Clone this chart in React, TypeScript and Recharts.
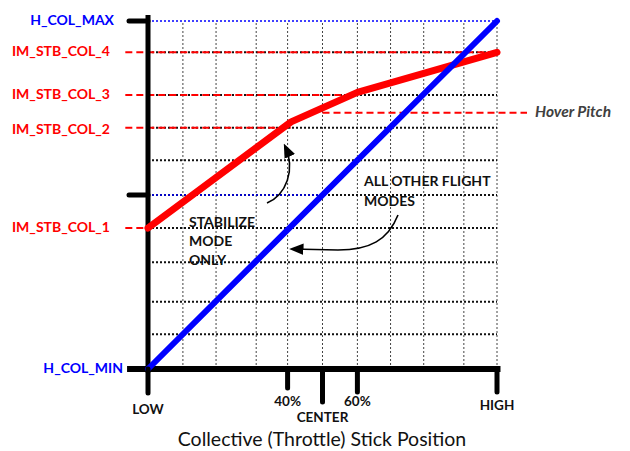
import React from 'react';
import { LineChart, Line, XAxis, YAxis, ReferenceLine } from 'recharts';

// stick position (0 = LOW, 100 = HIGH) vs collective pitch (0 = H_COL_MIN, 100 = H_COL_MAX)
const stabX = [0, 41, 60, 100];
const stabY = [40.5, 71, 79.5, 91];
const otherX = [0, 100];
const otherY = [0, 100];

const xTickValues = [0, 40, 50, 60, 100];
const xTickLabels = ['LOW', '40%', 'CENTER', '60%', 'HIGH'];

const levelNames = ['H_COL_MIN', 'IM_STB_COL_1', 'IM_STB_COL_2', 'IM_STB_COL_3', 'IM_STB_COL_4', 'H_COL_MAX'];
const levelValues = [0, 40.5, 69.3, 78.7, 91, 100];
// where each red dashed guide stops on the stick axis (null = no guide)
const levelGuideEnd = [null, 0, 41, 58.5, 100, null];

const hoverPitch = 73.6;

const xGrid = [10, 19.5, 31, 40, 50, 60, 69.5, 79, 90.5, 100];
const yGrid = [10, 19.3, 30.7, 40.5, 50, 60, 69.3, 78.7, 91];

const RED = '#ff0000';
const BLUE = '#0000ff';
const FONT = 'Lato, "Open Sans", sans-serif';

const stabData = stabX.map((x, i) => ({ x, y: stabY[i] }));
const otherData = otherX.map((x, i) => ({ x, y: otherY[i] }));

// tick mark length and label offset under the axis
const xTickStyle: Record<string, { len: number; dy: number }> = {
  LOW: { len: 24, dy: 42 },
  '40%': { len: 19, dy: 34 },
  CENTER: { len: 33, dy: 50 },
  '60%': { len: 23, dy: 34 },
  HIGH: { len: 23, dy: 38 },
};

const XTick = ({ x, y, payload }: any) => {
  const i = xTickValues.indexOf(payload.value);
  const label = xTickLabels[i];
  const s = xTickStyle[label];
  if (!s) return null;
  return (
    <g>
      <line x1={x} x2={x} y1={y} y2={y + s.len} stroke="#000" strokeWidth={5} strokeLinecap="round" />
      <text
        x={x}
        y={y + s.dy}
        textAnchor="middle"
        dominantBaseline="middle"
        fontFamily={FONT}
        fontWeight={700}
        fontSize={13.5}
        fill="#111"
      >
        {label}
      </text>
    </g>
  );
};

const YTick = ({ x, y, payload }: any) => {
  const v = payload.value;
  const i = levelValues.indexOf(v);
  const name = i >= 0 ? levelNames[i] : '';
  const isH = name.startsWith('H_');
  const gap = name === 'H_COL_MIN' ? 25 : name === 'H_COL_MAX' ? 34 : 38;
  return (
    <g>
      {(v === 100 || v === 50) && (
        <line x1={x - 19} x2={x} y1={y} y2={y} stroke="#000" strokeWidth={5} strokeLinecap="round" />
      )}
      {name && (
        <text
          x={x - gap}
          y={y + (name === 'IM_STB_COL_2' ? 3 : 0)}
          textAnchor="end"
          dominantBaseline="middle"
          fontFamily={FONT}
          fontWeight={700}
          fontSize={14}
          fill={isH ? BLUE : RED}
        >
          {name}
        </text>
      )}
    </g>
  );
};

export default function App() {
  return (
    <div style={{ position: 'relative', width: 630, height: 451, background: '#fff' }}>
      <style>{`body{margin:0}`}</style>
      <LineChart width={630} height={451} margin={{ top: 21, right: 133, bottom: 42, left: 88 }}>
        <XAxis
          type="number"
          dataKey="x"
          domain={[0, 100]}
          ticks={xTickValues}
          height={40}
          tickSize={0}
          tickMargin={0}
          axisLine={false}
          tick={<XTick />}
          interval={0}
        />
        <YAxis
          type="number"
          dataKey="y"
          domain={[0, 100]}
          ticks={[...levelValues, 50]}
          width={60}
          tickSize={0}
          tickMargin={0}
          axisLine={false}
          tick={<YTick />}
          interval={0}
        />

        {xGrid.map((v) => (
          <ReferenceLine key={`vx-${v}`} x={v} stroke="#444" strokeWidth={1} strokeDasharray="2 2" />
        ))}
        {yGrid.map((v) => (
          <ReferenceLine key={`hy-${v}`} y={v} stroke="#111" strokeWidth={2} strokeDasharray="2 2" />
        ))}

        <ReferenceLine y={100} stroke={BLUE} strokeWidth={1.5} strokeDasharray="2 2" />
        <ReferenceLine
          segment={[{ x: 0, y: 50 }, { x: 50, y: 50 }]}
          stroke={BLUE}
          strokeWidth={1.5}
          strokeDasharray="2 2"
        />

        {levelValues.map((v, i) =>
          levelGuideEnd[i] === null ? null : (
            <ReferenceLine
              key={`lvl-${i}`}
              segment={[{ x: -6.5, y: v }, { x: levelGuideEnd[i] as number, y: v }]}
              ifOverflow="visible"
              stroke={RED}
              strokeWidth={2}
              strokeDasharray="7 4"
            />
          )
        )}
        <ReferenceLine
          segment={[{ x: 50, y: hoverPitch }, { x: 108.6, y: hoverPitch }]}
          ifOverflow="visible"
          stroke={RED}
          strokeWidth={2}
          strokeDasharray="7 4"
        />

        {/* heavy axes */}
        <ReferenceLine
          segment={[{ x: -6, y: 0 }, { x: 101, y: 0 }]}
          ifOverflow="visible"
          stroke="#000"
          strokeWidth={6}
        />
        <ReferenceLine
          segment={[{ x: 0, y: -1 }, { x: 0, y: 101.7 }]}
          ifOverflow="visible"
          stroke="#000"
          strokeWidth={5}
        />

        <Line
          data={stabData}
          dataKey="y"
          stroke={RED}
          strokeWidth={7}
          strokeLinecap="round"
          strokeLinejoin="round"
          dot={false}
          type="linear"
          isAnimationActive={false}
        />
        <Line
          data={otherData}
          dataKey="y"
          stroke={BLUE}
          strokeWidth={6}
          strokeLinecap="round"
          dot={false}
          type="linear"
          isAnimationActive={false}
        />
      </LineChart>

      {/* annotations */}
      <svg
        width={630}
        height={451}
        style={{ position: 'absolute', left: 0, top: 0, pointerEvents: 'none' }}
        fontFamily={FONT}
      >
        <defs>
          <marker id="ah" viewBox="0 0 10 10" refX="8" refY="5" markerWidth="9" markerHeight="9" orient="auto-start-reverse">
            <path d="M0,1 L10,5 L0,9 z" fill="#000" />
          </marker>
        </defs>
        <path d="M267,203 C286,195 296,170 285,146" fill="none" stroke="#000" strokeWidth={1.6} markerEnd="url(#ah)" />
        <path d="M398,215 C388,240 370,250 338,250 L292,249" fill="none" stroke="#000" strokeWidth={1.6} markerEnd="url(#ah)" />

        <g fontWeight={700} fontSize={14} fill="#111">
          <text x={189} y={223} dominantBaseline="middle">STABILIZE</text>
          <text x={189} y={242} dominantBaseline="middle">MODE</text>
          <text x={189} y={261} dominantBaseline="middle">ONLY</text>
          <text x={364} y={182} dominantBaseline="middle">ALL OTHER FLIGHT</text>
          <text x={364} y={202} dominantBaseline="middle">MODES</text>
        </g>
        <text x={535} y={113} dominantBaseline="middle" fontWeight={700} fontStyle="italic" fontSize={15.5} fill="#404040">
          Hover Pitch
        </text>
        <text x={322} y={441} textAnchor="middle" dominantBaseline="middle" fontSize={19.5} fill="#111">
          Collective (Throttle) Stick Position
        </text>
      </svg>
    </div>
  );
}
